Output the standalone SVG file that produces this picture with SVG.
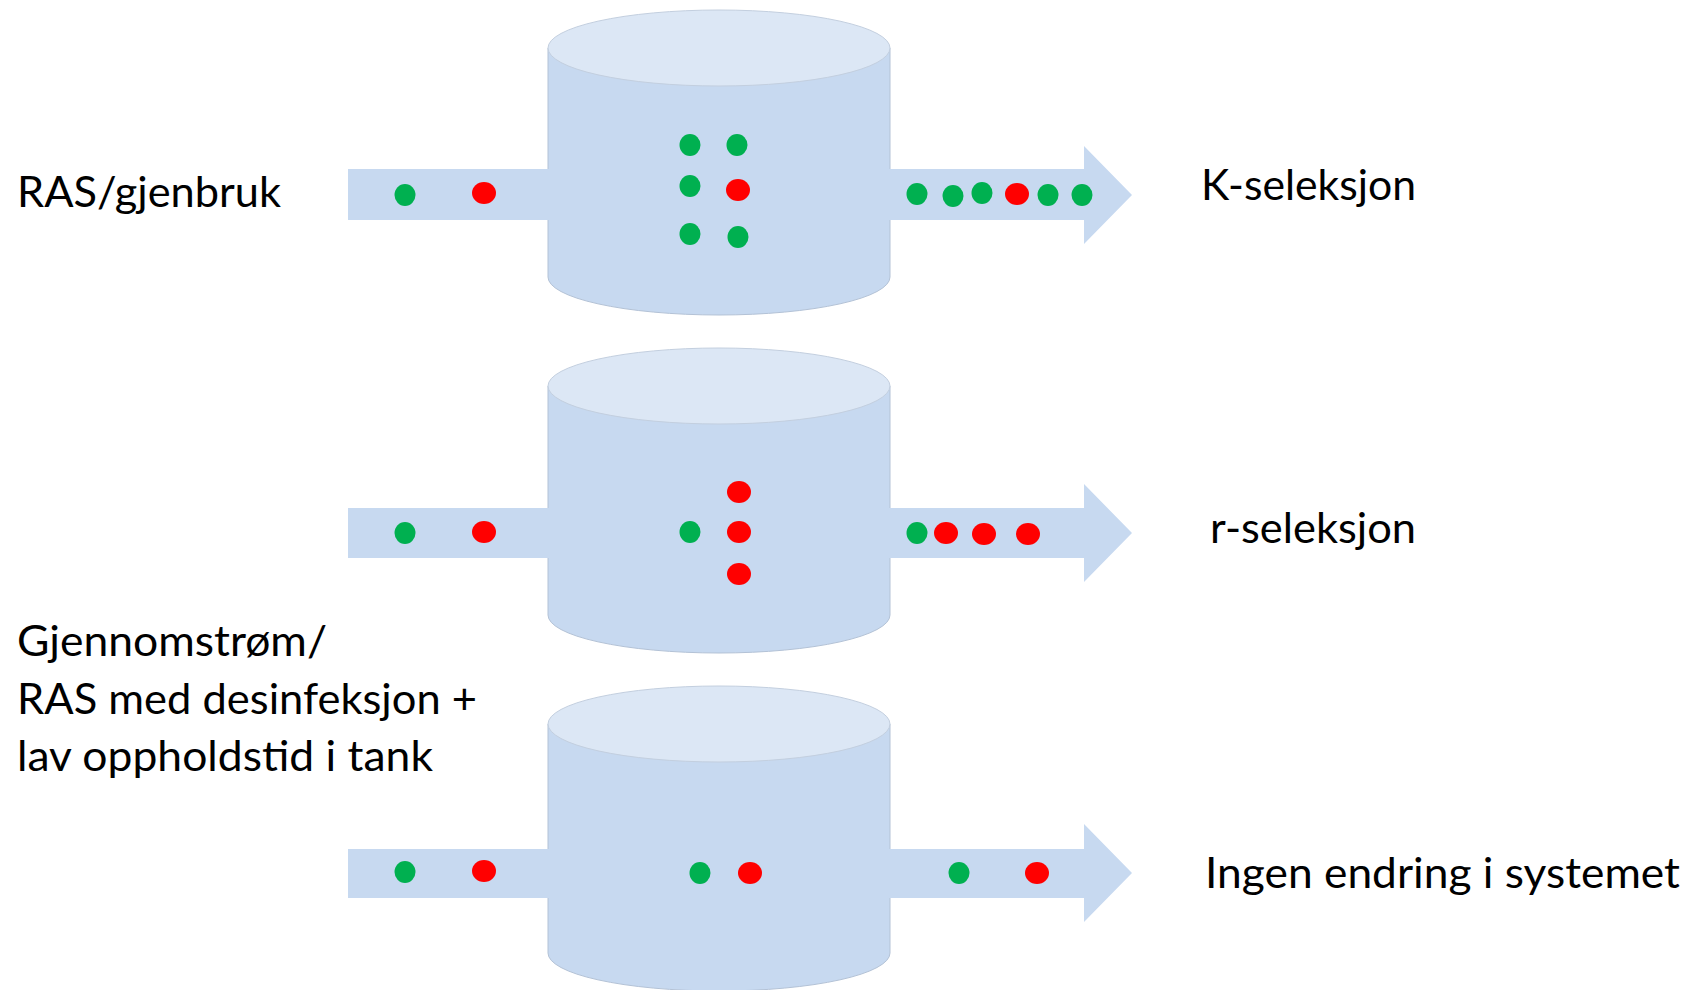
<svg xmlns="http://www.w3.org/2000/svg" width="1693" height="990" viewBox="0 0 1693 990">
<style>
.body{fill:#c7d9f0;stroke:#b3c2d6;stroke-width:1}
.top{fill:#dce7f5;stroke:#c3cfdf;stroke-width:1}
.flow{fill:#c7d9f0}
.g{fill:#00b050}
.r{fill:#ff0000}
.lbl{font-family:Lato,"Liberation Sans",sans-serif;font-size:43px;fill:#000}
</style>
<defs>
<g id="cyl">
<path class="body" d="M548,48 L548,277 A171,38 0 0 0 890,277 L890,48 Z"/>
<ellipse class="top" cx="719" cy="48" rx="171" ry="38"/>
</g>
</defs>
<rect width="1693" height="990" fill="#fff"/>
<g id="tank1"><use href="#cyl"/></g>
<g id="tank2"><use href="#cyl" transform="translate(0,338)"/></g>
<g id="tank3"><use href="#cyl" transform="translate(0,676)"/></g>
<g id="connectors">
<path class="flow" d="M348,169 L1084,169 L1084,146 L1132,195 L1084,244 L1084,220 L348,220 Z"/>
<path class="flow" d="M348,508 L1084,508 L1084,484 L1132,533 L1084,582 L1084,558 L348,558 Z"/>
<path class="flow" d="M348,849 L1084,849 L1084,824 L1132,873 L1084,922 L1084,898 L348,898 Z"/>
</g>
<g id="particles1">
<ellipse class="g" cx="405" cy="195" rx="10.5" ry="11"/>
<ellipse class="r" cx="484" cy="193" rx="12" ry="11"/>
<ellipse class="g" cx="690" cy="145" rx="10.5" ry="11"/>
<ellipse class="g" cx="737" cy="145" rx="10.5" ry="11"/>
<ellipse class="g" cx="690" cy="186" rx="10.5" ry="11"/>
<ellipse class="r" cx="738" cy="190" rx="12" ry="11"/>
<ellipse class="g" cx="690" cy="234" rx="10.5" ry="11"/>
<ellipse class="g" cx="738" cy="237" rx="10.5" ry="11"/>
<ellipse class="g" cx="917" cy="194" rx="10.5" ry="11"/>
<ellipse class="g" cx="953" cy="196" rx="10.5" ry="11"/>
<ellipse class="g" cx="982" cy="193" rx="10.5" ry="11"/>
<ellipse class="r" cx="1017" cy="194" rx="12" ry="11"/>
<ellipse class="g" cx="1048" cy="195" rx="10.5" ry="11"/>
<ellipse class="g" cx="1082" cy="195" rx="10.5" ry="11"/>
</g>
<g id="particles2">
<ellipse class="g" cx="405" cy="533" rx="10.5" ry="11"/>
<ellipse class="r" cx="484" cy="532" rx="12" ry="11"/>
<ellipse class="r" cx="739" cy="492" rx="12" ry="11"/>
<ellipse class="g" cx="690" cy="532" rx="10.5" ry="11"/>
<ellipse class="r" cx="739" cy="532" rx="12" ry="11"/>
<ellipse class="r" cx="739" cy="574" rx="12" ry="11"/>
<ellipse class="g" cx="917" cy="533" rx="10.5" ry="11"/>
<ellipse class="r" cx="946" cy="533" rx="12" ry="11"/>
<ellipse class="r" cx="984" cy="534" rx="12" ry="11"/>
<ellipse class="r" cx="1028" cy="534" rx="12" ry="11"/>
</g>
<g id="particles3">
<ellipse class="g" cx="405" cy="872" rx="10.5" ry="11"/>
<ellipse class="r" cx="484" cy="871" rx="12" ry="11"/>
<ellipse class="g" cx="700" cy="873" rx="10.5" ry="11"/>
<ellipse class="r" cx="750" cy="873" rx="12" ry="11"/>
<ellipse class="g" cx="959" cy="873" rx="10.5" ry="11"/>
<ellipse class="r" cx="1037" cy="873" rx="12" ry="11"/>
</g>
<g id="label-ras">
<text class="lbl" x="17" y="207" textLength="264" lengthAdjust="spacingAndGlyphs">RAS/gjenbruk</text>
</g>
<g id="label-gjennom">
<text class="lbl" x="17" y="656" textLength="310" lengthAdjust="spacingAndGlyphs">Gjennomstrøm/</text>
<text class="lbl" x="17" y="714" textLength="460" lengthAdjust="spacingAndGlyphs">RAS med desinfeksjon +</text>
<text class="lbl" x="17" y="771" textLength="416" lengthAdjust="spacingAndGlyphs">lav oppholdstid i tank</text>
</g>
<g id="label-k">
<text class="lbl" x="1201" y="200" textLength="215" lengthAdjust="spacingAndGlyphs">K-seleksjon</text>
</g>
<g id="label-r">
<text class="lbl" x="1210" y="543" textLength="206" lengthAdjust="spacingAndGlyphs">r-seleksjon</text>
</g>
<g id="label-ingen">
<text class="lbl" x="1205" y="888" textLength="475" lengthAdjust="spacingAndGlyphs">Ingen endring i systemet</text>
</g>
</svg>
